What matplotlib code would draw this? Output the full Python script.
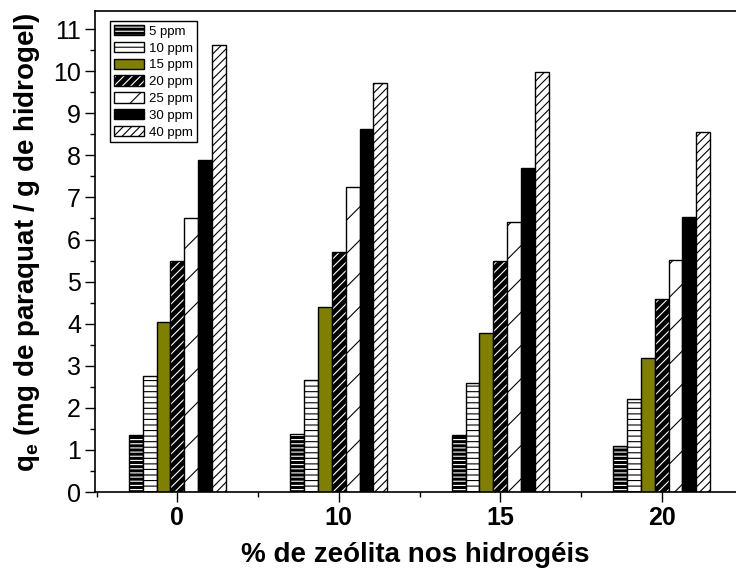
import matplotlib
matplotlib.use("Agg")
import matplotlib.pyplot as plt
import numpy as np
from matplotlib.legend_handler import HandlerTuple
from matplotlib.patches import Rectangle
from matplotlib.ticker import MultipleLocator

plt.rcParams["font.family"] = ["Liberation Sans", "DejaVu Sans"]
plt.rcParams["mathtext.fontset"] = "custom"
plt.rcParams["mathtext.rm"] = "Liberation Sans:bold"
plt.rcParams["mathtext.bf"] = "Liberation Sans:bold"
plt.rcParams["hatch.linewidth"] = 0.8

zeolite = ["0", "10", "15", "20"]
series = ["5 ppm", "10 ppm", "15 ppm", "20 ppm", "25 ppm", "30 ppm", "40 ppm"]
q_5 = [1.35, 1.37, 1.35, 1.10]
q_10 = [2.76, 2.65, 2.60, 2.20]
q_15 = [4.03, 4.40, 3.78, 3.18]
q_20 = [5.50, 5.70, 5.48, 4.58]
q_25 = [6.52, 7.25, 6.42, 5.52]
q_30 = [7.89, 8.63, 7.70, 6.53]
q_40 = [10.62, 9.72, 9.97, 8.55]
values = [q_5, q_10, q_15, q_20, q_25, q_30, q_40]

# (face colour, hatch, hatch colour)
styles = [
    ("black", "----", "white"),
    ("white", "---", "black"),
    ("#808000", None, None),
    ("black", "////", "white"),
    ("white", "/", "black"),
    ("black", None, None),
    ("white", "////", "black"),
]

fig = plt.figure(figsize=(7.36, 5.68), dpi=100)
ax = fig.add_axes([95 / 736, 1 - 492 / 568, (744 - 95) / 736, (492 - 11) / 568])

x = np.arange(len(zeolite))
width = 0.086
handles = []
for idx, (label, vals, (face, hatch, hcolor)) in enumerate(zip(series, values, styles)):
    pos = x + (idx - 3) * width
    if hatch:
        ax.bar(pos, vals, width=width, color=face, edgecolor=hcolor, hatch=hatch, linewidth=0)
        ax.bar(pos, vals, width=width, fill=False, edgecolor="black", linewidth=1.0)
        h = (
            Rectangle((0, 0), 1, 1, facecolor=face, edgecolor=hcolor, hatch=hatch, linewidth=0),
            Rectangle((0, 0), 1, 1, fill=False, edgecolor="black", linewidth=1.0),
        )
    else:
        ax.bar(pos, vals, width=width, color=face, edgecolor="black", linewidth=1.0)
        h = (Rectangle((0, 0), 1, 1, facecolor=face, edgecolor="black", linewidth=1.0),)
    handles.append(h)

ax.set_xlim(-0.51, 3.51)
ax.set_ylim(0, 11.43)
ax.set_xticks(x)
ax.set_xticklabels(zeolite, fontsize=18, fontweight="bold")
ax.xaxis.set_minor_locator(MultipleLocator(0.5))
ax.yaxis.set_major_locator(MultipleLocator(1))
ax.yaxis.set_minor_locator(MultipleLocator(0.5))
ax.tick_params(axis="y", which="major", labelsize=18, length=7, width=1, direction="out", pad=3)
ax.tick_params(axis="both", which="minor", length=3.5, width=1, direction="out")
ax.tick_params(axis="x", which="major", length=7, width=1, direction="out", pad=3)
for spine in ax.spines.values():
    spine.set_linewidth(1.2)

ax.set_xlabel("% de zeólita nos hidrogéis", fontsize=20, fontweight="bold")
ax.set_ylabel(r"$\mathbf{q_e}$ (mg de paraquat / g de hidrogel)", fontsize=20,
              fontweight="bold")
ax.xaxis.set_label_coords(0.5 - 4 / 649, -0.104)
ax.yaxis.set_label_coords(-0.081, 0.52)

ax.legend(
    handles,
    series,
    handler_map={tuple: HandlerTuple(ndivide=1)},
    loc="upper left",
    bbox_to_anchor=(15 / 649, 1 - 10 / 481),
    fontsize=9.5,
    frameon=True,
    fancybox=False,
    edgecolor="black",
    framealpha=1,
    handlelength=2.3,
    handleheight=0.85,
    handletextpad=0.35,
    labelspacing=0.3,
    borderpad=0.3,
    borderaxespad=0.0,
)

fig.savefig("out.png", dpi=100)
